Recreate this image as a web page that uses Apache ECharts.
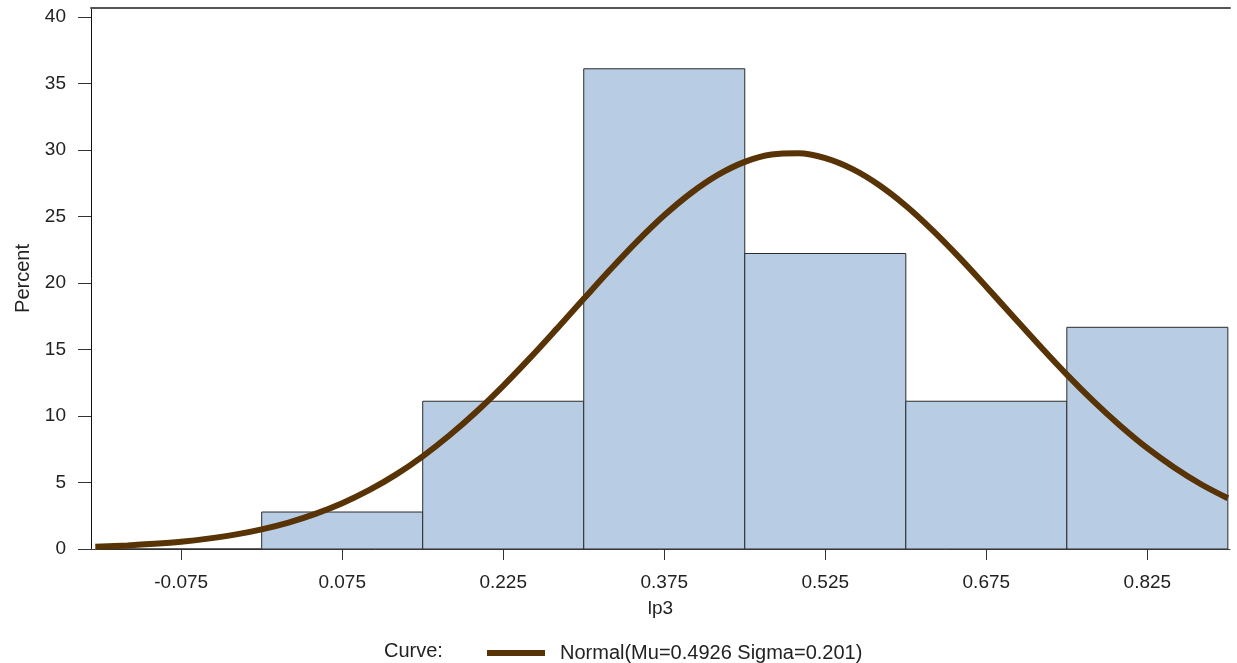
<!DOCTYPE html>
<html>
<head>
<meta charset="utf-8">
<script src="https://cdn.jsdelivr.net/npm/echarts@6/dist/echarts.min.js"></script>
<style>html,body{margin:0;padding:0;background:#fff}#c{width:1237px;height:663px}</style>
</head>
<body>
<div id="c"></div>
<script>
// Histogram bins (lower edge, upper edge) and percent heights
var binStarts = [-0.15, 0.0, 0.15, 0.30, 0.45, 0.60, 0.75];
var binEnds   = [0.0, 0.15, 0.30, 0.45, 0.60, 0.75, 0.90];
var binPercents = [0, 2.78, 11.11, 36.11, 22.22, 11.11, 16.67];
// Normal curve points
var curveX = [-0.155, -0.125, -0.1, -0.075, -0.05, -0.025, 0.0, 0.025, 0.05, 0.075, 0.1, 0.125, 0.15, 0.175, 0.2, 0.225, 0.25, 0.275, 0.3, 0.325, 0.35, 0.375, 0.4, 0.425, 0.45, 0.475, 0.5, 0.525, 0.55, 0.575, 0.6, 0.625, 0.65, 0.675, 0.7, 0.725, 0.75, 0.775, 0.8, 0.825, 0.85, 0.875, 0.9];
var curveY = [0.17, 0.27, 0.39, 0.55, 0.78, 1.08, 1.48, 1.99, 2.64, 3.44, 4.42, 5.59, 6.97, 8.55, 10.32, 12.27, 14.37, 16.57, 18.81, 21.03, 23.15, 25.09, 26.77, 28.13, 29.11, 29.66, 29.75, 29.39, 28.58, 27.37, 25.81, 23.96, 21.91, 19.72, 17.48, 15.26, 13.11, 11.10, 9.25, 7.58, 6.13, 4.87, 3.82];
// Tick labels
var xTicks = [-0.075, 0.075, 0.225, 0.375, 0.525, 0.675, 0.825];
var yTicks = [0, 5, 10, 15, 20, 25, 30, 35, 40];
var legendLabel = 'Normal(Mu=0.4926 Sigma=0.201)';

var FONT = '"Liberation Sans", Arial, sans-serif';
var chart = echarts.init(document.getElementById('c'), null, {renderer: 'canvas'});

var barData = binStarts.map(function (s, i) { return [s, binEnds[i], binPercents[i]]; });
var lineData = curveX.map(function (x, i) { return [x, curveY[i]]; });

chart.setOption({
  animation: false,
  backgroundColor: '#ffffff',
  grid: {left: 91, top: 8, right: 7, bottom: 114, containLabel: false},
  xAxis: [{
    type: 'value', min: -0.159, max: 0.902, position: 'bottom',
    name: 'lp3', nameLocation: 'middle', nameGap: 50,
    nameTextStyle: {fontFamily: FONT, fontSize: 19, color: '#222'},
    axisLine: {show: true, onZero: false, lineStyle: {color: '#444', width: 1}},
    axisTick: {show: true, length: 11, customValues: xTicks, lineStyle: {color: '#333'}},
    axisLabel: {show: true, customValues: xTicks, margin: 24, fontFamily: FONT, fontSize: 19, color: '#222',
      formatter: function (v) { return v.toFixed(3); }},
    splitLine: {show: false}
  }, {
    type: 'value', min: -0.159, max: 0.902, position: 'top',
    axisLine: {show: true, onZero: false, lineStyle: {color: '#555', width: 2}},
    axisTick: {show: false}, axisLabel: {show: false}, splitLine: {show: false}
  }],
  yAxis: {
    type: 'value', min: 0, max: 40.68,
    name: 'Percent', nameLocation: 'middle', nameGap: 58,
    nameTextStyle: {fontFamily: FONT, fontSize: 20, color: '#222'},
    axisLine: {show: true, onZero: false, lineStyle: {color: '#111', width: 1}},
    axisTick: {show: true, length: 13, customValues: yTicks, lineStyle: {color: '#333'}},
    axisLabel: {show: true, customValues: yTicks, margin: 25, fontFamily: FONT, fontSize: 19, color: '#222'},
    splitLine: {show: false}
  },
  legend: {
    show: true, left: 482, top: 638, itemWidth: 58, itemHeight: 6, itemGap: 16,
    icon: 'rect',
    textStyle: {fontFamily: FONT, fontSize: 20, color: '#222', padding: [0, 0, 0, 10]},
    data: [{name: legendLabel, icon: 'rect'}]
  },
  graphic: [{
    type: 'text', left: 384, top: 641,
    style: {text: 'Curve:', font: '20px ' + FONT, fill: '#222'}
  }],
  series: [{
    type: 'custom',
    name: 'bins',
    renderItem: function (params, api) {
      var p0 = api.coord([api.value(0), api.value(2)]);
      var p1 = api.coord([api.value(1), 0]);
      return {
        type: 'rect',
        shape: {x: p0[0], y: p0[1], width: p1[0] - p0[0], height: p1[1] - p0[1]},
        style: {fill: '#b8cde4', stroke: '#2b2b2b', lineWidth: 1}
      };
    },
    encode: {x: [0, 1], y: 2},
    data: barData,
    z: 2
  }, {
    type: 'line',
    name: legendLabel,
    data: lineData,
    smooth: 0.35,
    showSymbol: false,
    symbol: 'none',
    lineStyle: {color: '#573305', width: 6},
    itemStyle: {color: '#573305'},
    z: 5
  }]
});
</script>
</body>
</html>
